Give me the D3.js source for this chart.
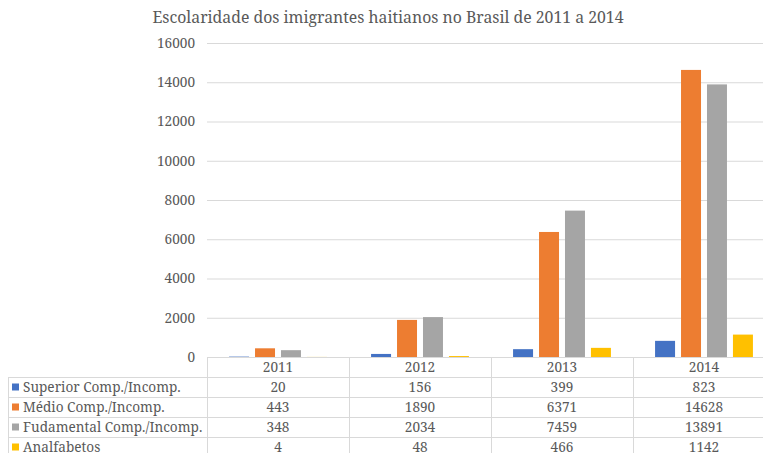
<!DOCTYPE html>
<html>
<head>
<meta charset="utf-8">
<script src="https://cdn.jsdelivr.net/npm/d3@7/dist/d3.min.js"></script>
<style>
  html, body { margin: 0; padding: 0; background: #fff; }
  svg { display: block; }
</style>
</head>
<body>
<svg id="chart" width="763" height="453"></svg>
<script>
// Schooling of Haitian immigrants in Brazil, 2011–2014
const years = ["2011", "2012", "2013", "2014"];
const seriesNames = ["Superior Comp./Incomp.", "Médio Comp./Incomp.", "Fudamental Comp./Incomp.", "Analfabetos"];
const superior = [20, 156, 399, 823];
const medio = [443, 1890, 6371, 14628];
const fundamental = [348, 2034, 7459, 13891];
const analfabetos = [4, 48, 466, 1142];
const yTicks = [0, 2000, 4000, 6000, 8000, 10000, 12000, 14000, 16000];
const colors = ["#4472C4", "#ED7D31", "#A5A5A5", "#FFC000"];

const seriesValues = [superior, medio, fundamental, analfabetos];

const FONT = "Noto Serif, DejaVu Serif, serif";
const svg = d3.select("#chart").attr("font-family", FONT);
const W = 763, H = 453;
const plot = { left: 207, right: 775, top: 43, bottom: 357 };
const rowH = 20;
const gridColor = "#d9d9d9";
const textColor = "#595959";
const fs = 13.6;

// Title
svg.append("text")
  .attr("x", 388).attr("y", 23)
  .attr("text-anchor", "middle")
  .attr("font-size", 15.8)
  .attr("fill", textColor)
  .text("Escolaridade dos imigrantes haitianos no Brasil de 2011 a 2014");

const x0 = d3.scaleBand().domain(years).range([plot.left, plot.right]).paddingInner(0).paddingOuter(0);
const x1 = d3.scaleBand().domain(d3.range(seriesNames.length))
  .range([0, x0.bandwidth()]).paddingInner(0.23).paddingOuter(0.85);
const y = d3.scaleLinear().domain([0, 16000]).range([plot.bottom, plot.top]);

// Gridlines and y labels
const yAxis = d3.axisLeft(y).tickValues(yTicks).tickSize(-(plot.right - plot.left)).tickPadding(12).tickFormat(d3.format("d"));
const gAxis = svg.append("g").attr("transform", `translate(${plot.left},0)`).call(yAxis)
  .attr("font-family", FONT).attr("font-size", fs);
gAxis.select(".domain").remove();
gAxis.selectAll(".tick line").attr("stroke", gridColor).attr("stroke-width", 1);
gAxis.selectAll(".tick text").attr("fill", textColor);

// Bars
const groups = svg.append("g").selectAll("g").data(years).join("g")
  .attr("transform", d => `translate(${x0(d)},0)`);
groups.selectAll("rect")
  .data((yr, i) => seriesValues.map((vals, s) => ({ s, v: vals[i] })))
  .join("rect")
  .attr("x", d => x1(d.s))
  .attr("width", x1.bandwidth())
  .attr("y", d => y(d.v))
  .attr("height", d => y(0) - y(d.v))
  .attr("fill", d => colors[d.s]);

// Data table under the plot
const table = svg.append("g").attr("stroke", gridColor).attr("stroke-width", 1).attr("fill", "none");
const tableTop = plot.bottom;
const tableLeft = 8;
table.append("line").attr("x1", plot.left).attr("x2", plot.right).attr("y1", tableTop + 0.5).attr("y2", tableTop + 0.5);
for (let r = 1; r <= seriesNames.length + 1; r++) {
  const yy = tableTop + r * rowH + 0.5;
  table.append("line").attr("x1", tableLeft).attr("x2", plot.right).attr("y1", yy).attr("y2", yy);
}
table.append("line").attr("x1", tableLeft + 0.5).attr("x2", tableLeft + 0.5)
  .attr("y1", tableTop + rowH).attr("y2", H);
years.concat(["end"]).forEach((yr, i) => {
  const xx = plot.left + i * x0.bandwidth() + 0.5;
  table.append("line").attr("x1", xx).attr("x2", xx).attr("y1", tableTop).attr("y2", H);
});

const tt = svg.append("g").attr("fill", textColor).attr("font-size", fs).attr("font-family", FONT);
tt.selectAll("text.yr").data(years).join("text").attr("class", "yr")
  .attr("x", d => x0(d) + x0.bandwidth() / 2)
  .attr("y", tableTop + rowH / 2 + 5)
  .attr("text-anchor", "middle").text(d => d);
seriesNames.forEach((name, s) => {
  const cy = tableTop + (s + 1) * rowH + rowH / 2;
  svg.append("rect").attr("x", 12).attr("y", cy - 3.5).attr("width", 7).attr("height", 7).attr("fill", colors[s]);
  tt.append("text").attr("x", 23).attr("y", cy + 4.5).text(name);
  years.forEach((yr, i) => {
    tt.append("text").attr("x", x0(yr) + x0.bandwidth() / 2).attr("y", cy + 4.5)
      .attr("text-anchor", "middle").text(seriesValues[s][i]);
  });
});
</script>
</body>
</html>
